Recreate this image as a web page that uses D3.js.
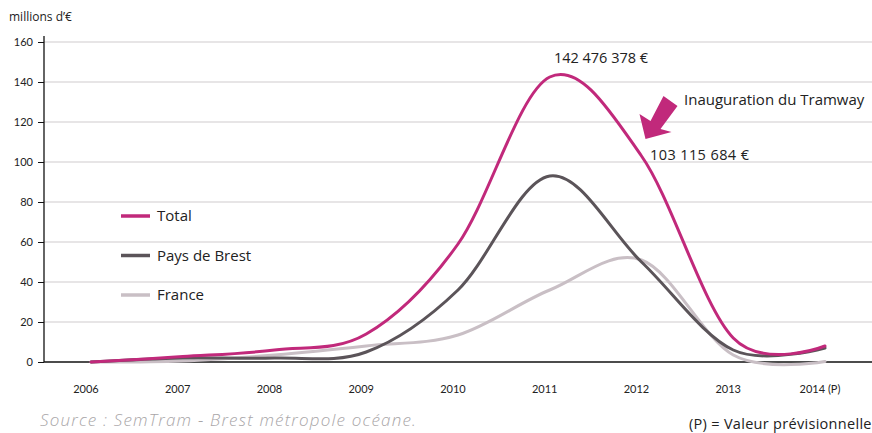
<!DOCTYPE html>
<html>
<head>
<meta charset="utf-8">
<script src="https://cdn.jsdelivr.net/npm/d3@7"></script>
<style>
  body { margin: 0; background: #fff; }
  svg { font-family: "Open Sans", Lato, sans-serif; }
</style>
</head>
<body>
<div id="chart"></div>
<script>
// data (millions d'€)
var years = [2006, 2007, 2008, 2009, 2010, 2011, 2012, 2013, 2014];
var yearLabels = ["2006", "2007", "2008", "2009", "2010", "2011", "2012", "2013", "2014 (P)"];
var total = [0, 2.7, 6, 14, 59, 142.5, 103, 12, 8];
var paysBrest = [0, 2, 2, 5, 36, 93, 50, 6, 7];
var france = [0, 0.5, 3.5, 8, 13.5, 36, 51, 3.5, 0.3];
var yTicks = [0, 20, 40, 60, 80, 100, 120, 140, 160];

var seriesNames = ["Total", "Pays de Brest", "France"];
var seriesColors = ["#c1297b", "#5b5459", "#c9bfc5"];
var seriesValues = [total, paysBrest, france];

var svgWidth = 872;
var svgHeight = 433;

var svg = d3.select("#chart")
  .append("svg")
  .attr("width", svgWidth)
  .attr("height", svgHeight);

var xScale = d3.scaleLinear()
  .domain([2006, 2014])
  .range([91, 825]);

var yScale = d3.scaleLinear()
  .domain([0, 160])
  .range([362, 42]);

// gridlines
svg.append("g")
  .selectAll("line")
  .data(yTicks.slice(1))
  .enter()
  .append("line")
  .attr("x1", 44)
  .attr("x2", svgWidth)
  .attr("y1", d => yScale(d))
  .attr("y2", d => yScale(d))
  .attr("stroke", "#cfcbcd")
  .attr("stroke-width", 1.2);

// y axis
var leftAxis = d3.axisLeft(yScale).tickValues(yTicks).tickSize(6).tickPadding(5);
var yAxis = svg.append("g")
  .attr("transform", "translate(44,0)")
  .call(leftAxis);
yAxis.select(".domain").remove();
yAxis.selectAll("text").attr("font-size", 11).attr("fill", "#222")
  .style("font-family", "Lato, sans-serif");
yAxis.selectAll("line").attr("stroke", "#111");
svg.append("line")
  .attr("x1", 44).attr("x2", 44)
  .attr("y1", 36).attr("y2", 362)
  .attr("stroke", "#111").attr("stroke-width", 1.3);

// x axis line
svg.append("line")
  .attr("x1", 44).attr("x2", svgWidth)
  .attr("y1", 362).attr("y2", 362)
  .attr("stroke", "#111").attr("stroke-width", 1.3);

// year labels
svg.append("g")
  .selectAll("text")
  .data(years)
  .enter()
  .append("text")
  .attr("x", d => xScale(d) - 5)
  .attr("y", 393)
  .attr("text-anchor", "middle")
  .attr("font-size", 11)
  .attr("fill", "#222")
  .style("font-family", "Lato, sans-serif")
  .text((d, i) => yearLabels[i]);

svg.append("text")
  .attr("x", 9)
  .attr("y", 21)
  .attr("font-size", 12)
  .attr("fill", "#222")
  .text("millions d’€");

// lines, drawn back to front
var line = d3.line()
  .x((d, i) => xScale(years[i]))
  .y(d => yScale(d))
  .curve(d3.curveCardinal.tension(0));

[2, 1, 0].forEach(function(k) {
  svg.append("path")
    .datum(seriesValues[k])
    .attr("d", line)
    .attr("fill", "none")
    .attr("stroke", seriesColors[k])
    .attr("stroke-width", 3)
    .attr("stroke-linecap", "round");
});

// legend
var legend = svg.append("g");
seriesNames.forEach(function(name, i) {
  var ly = 216 + i * 39.5;
  legend.append("line")
    .attr("x1", 121).attr("x2", 150)
    .attr("y1", ly).attr("y2", ly)
    .attr("stroke", seriesColors[i])
    .attr("stroke-width", 3.5);
  legend.append("text")
    .attr("x", 157)
    .attr("y", ly + 5)
    .attr("font-size", 15)
    .attr("fill", "#222")
    .text(name);
});

// annotations
svg.append("text")
  .attr("x", 601)
  .attr("y", 63)
  .attr("text-anchor", "middle")
  .attr("font-size", 14.5)
  .attr("fill", "#222")
  .text("142 476 378 €");

svg.append("text")
  .attr("x", 650)
  .attr("y", 160)
  .attr("font-size", 14.5)
  .attr("letter-spacing", 0.4)
  .attr("fill", "#222")
  .text("103 115 684 €");

svg.append("text")
  .attr("x", 684)
  .attr("y", 105)
  .attr("font-size", 15)
  .attr("fill", "#222")
  .text("Inauguration du Tramway");

// arrow pointing at the 2012 value
var ax = xScale(2012) + 4, ay = yScale(103) - 17;
var arrowPts = [
  [ax, ay],
  [ax - 6, ay - 25],
  [ax + 5, ay - 18],
  [ax + 18, ay - 43],
  [ax + 32, ay - 33],
  [ax + 15, ay - 10],
  [ax + 26, ay - 7]
];
svg.append("polygon")
  .attr("points", arrowPts.map(p => p.join(",")).join(" "))
  .attr("fill", "#c1297b");

// footer
svg.append("text")
  .attr("x", 40)
  .attr("y", 426)
  .attr("font-size", 17)
  .attr("font-style", "italic")
  .attr("font-weight", 300)
  .attr("letter-spacing", 1.2)
  .attr("fill", "#a9a6a8")
  .text("Source : SemTram - Brest métropole océane.");

svg.append("text")
  .attr("x", 689)
  .attr("y", 429)
  .attr("font-size", 14.5)
  .attr("letter-spacing", 0.3)
  .attr("fill", "#222")
  .text("(P) = Valeur prévisionnelle");
</script>
</body>
</html>
